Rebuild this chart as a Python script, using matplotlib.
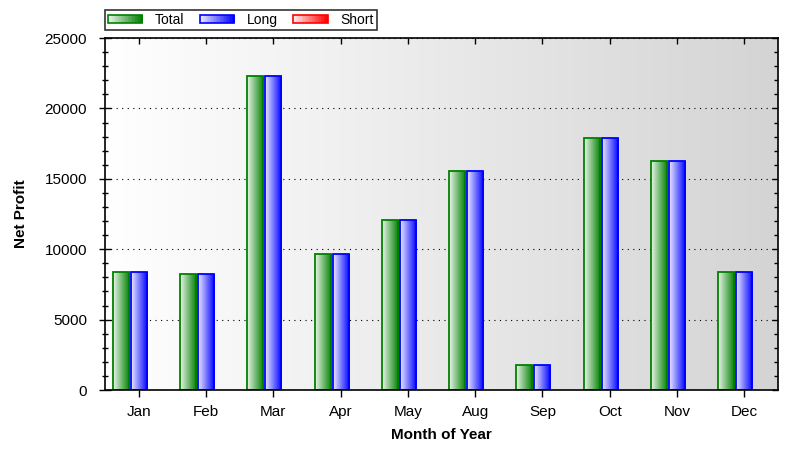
import numpy as np
import matplotlib.pyplot as plt
from matplotlib.patches import Rectangle
from matplotlib.legend_handler import HandlerBase
from matplotlib.colors import LinearSegmentedColormap

plt.rcParams['font.family'] = ['Liberation Sans', 'DejaVu Sans']

# data
months = ['Jan', 'Feb', 'Mar', 'Apr', 'May', 'Aug', 'Sep', 'Oct', 'Nov', 'Dec']
total = [8380, 8240, 22300, 9660, 12070, 15550, 1780, 17900, 16260, 8380]
long_ = [8380, 8240, 22300, 9660, 12070, 15550, 1780, 17900, 16260, 8380]
short = [0, 0, 0, 0, 0, 0, 0, 0, 0, 0]

series = [
    ('Total', total, '#008000', (0.92, 0.96, 0.92)),
    ('Long', long_, '#0000ff', (0.92, 0.92, 1.0)),
    ('Short', short, '#ff0000', (1.0, 0.92, 0.92)),
]

fig = plt.figure(figsize=(8.12, 4.62), dpi=100)
ax = fig.add_axes([0.1293, 0.1558, 0.8288, 0.7619])

# background gradient white -> grey
bg = LinearSegmentedColormap.from_list('bg', ['#ffffff', '#d4d4d4'])
ax.imshow(np.linspace(0, 1, 256).reshape(1, -1), cmap=bg, aspect='auto',
          extent=[0, 1, 0, 1], transform=ax.transAxes, zorder=0)

x = np.arange(len(months))
width = 0.238
step = 0.267
grad = np.linspace(0, 1, 64).reshape(1, -1)

for i, (name, vals, col, light) in enumerate(series):
    cmap = LinearSegmentedColormap.from_list(name, [light, col])
    offs = (i - 1) * step
    for xi, v in zip(x, vals):
        if v <= 0:
            continue
        x0 = xi + offs - width / 2
        rect = Rectangle((x0, 0), width, v, facecolor='none', edgecolor=col,
                         linewidth=1.3, zorder=3)
        ax.add_patch(rect)
        im = ax.imshow(grad, cmap=cmap, aspect='auto',
                       extent=[x0, x0 + width, 0, v], zorder=2)
        im.set_clip_path(rect)

ax.set_xlim(-0.5, len(months) - 0.5)
ax.set_ylim(0, 25000)

ax.set_xticks(x)
ax.set_xticklabels(months, fontsize=11)
ax.set_yticks(np.arange(0, 25001, 5000))
ax.set_yticks(np.arange(0, 25001, 1000), minor=True)
ax.tick_params(axis='y', which='major', direction='inout', length=8, width=1,
               labelsize=11, right=True, pad=9)
ax.tick_params(axis='y', which='minor', direction='inout', length=4.5, width=1,
               right=True)
ax.tick_params(axis='x', which='major', direction='out', length=5, width=1,
               top=True, pad=6)
# right and top ticks point inward
for t in ax.yaxis.get_major_ticks() + ax.yaxis.get_minor_ticks():
    t.tick2line.set_marker(0)
for t in ax.yaxis.get_major_ticks():
    t.tick2line.set_markersize(4.5)
for t in ax.yaxis.get_minor_ticks():
    t.tick2line.set_markersize(3)
for t in ax.xaxis.get_major_ticks():
    t.tick2line.set_marker(3)
    t.tick2line.set_markersize(4.5)

ax.grid(axis='y', which='major', linestyle=(0, (1, 4)), color='black',
        linewidth=0.8, zorder=1)
ax.set_axisbelow(True)
for s in ax.spines.values():
    s.set_linewidth(1.2)
    s.set_zorder(5)

ax.set_xlabel('Month of Year', fontsize=11, fontweight='bold', labelpad=6)
ax.set_ylabel('Net Profit', fontsize=11, fontweight='bold', labelpad=12)


class GradHandler(HandlerBase):
    def __init__(self, light, col):
        super().__init__()
        self.light = light
        self.col = col

    def create_artists(self, legend, orig_handle, xdescent, ydescent,
                       width, height, fontsize, trans):
        cmap = LinearSegmentedColormap.from_list('h', [self.light, self.col])
        arts = []
        n = 24
        h = height * 0.85
        y0 = -ydescent + (height - h) / 2
        for k in range(n):
            r = Rectangle((-xdescent + width * k / n, y0), width / n + 0.3, h,
                          facecolor=cmap(k / (n - 1)), edgecolor='none',
                          transform=trans)
            arts.append(r)
        arts.append(Rectangle((-xdescent, y0), width, h, facecolor='none',
                              edgecolor=self.col, linewidth=1.2,
                              transform=trans))
        return arts


handles = [Rectangle((0, 0), 1, 1) for _ in series]
hmap = {h: GradHandler(s[3], s[2]) for h, s in zip(handles, series)}
leg = fig.legend(handles, [s[0] for s in series], handler_map=hmap, ncol=3,
                 loc='upper left', bbox_to_anchor=(0.1293, 0.978),
                 fontsize=10, frameon=True, fancybox=False, edgecolor='black',
                 handlelength=2.5, handleheight=0.7, handletextpad=0.9,
                 columnspacing=1.1, borderpad=0.2, borderaxespad=0)
leg.get_frame().set_linewidth(1.2)

fig.savefig('out.png', dpi=100)
